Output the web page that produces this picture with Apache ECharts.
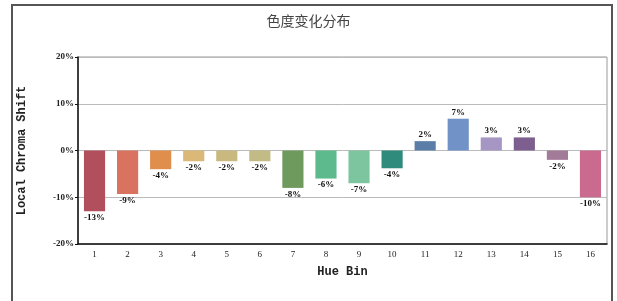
<!DOCTYPE html>
<html>
<head>
<meta charset="utf-8">
<script src="https://cdn.jsdelivr.net/npm/echarts@6/dist/echarts.min.js"></script>
<style>
  html, body { margin: 0; padding: 0; background: #fff; }
  #chart { width: 617px; height: 301px; }
</style>
</head>
<body>
<div id="chart"></div>
<script>
const bins = ['1', '2', '3', '4', '5', '6', '7', '8', '9', '10', '11', '12', '13', '14', '15', '16']
const shift = [-13, -9.3, -4, -2.3, -2.3, -2.3, -8, -6, -7, -3.8, 2, 6.8, 2.8, 2.8, -2, -10]
const barColors = [
  '#b24f5c', '#d9735f', '#e08e4c', '#d9b878', '#c9b97f', '#c3bb85',
  '#6e9a5e', '#5cba8c', '#7cc59f', '#2f8b7b', '#5a7ea8', '#7192c6',
  '#a696c4', '#7c5e8f', '#a27b98', '#c96a8e'
]

const chart = echarts.init(document.getElementById('chart'))

chart.setOption({
  animation: false,
  title: {
    text: '色度变化分布',
    left: 'center',
    top: 9,
    textStyle: {
      fontFamily: 'Noto Sans CJK SC',
      fontSize: 14,
      fontWeight: 'normal',
      color: '#444'
    }
  },
  graphic: [
    {
      type: 'rect',
      shape: { x: 12, y: 5, width: 600, height: 305 },
      style: { fill: 'none', stroke: '#555', lineWidth: 2 }
    }
  ],
  grid: {
    left: 78,
    right: 10,
    top: 57,
    bottom: 57,
    show: true,
    borderColor: '#999',
    borderWidth: 1
  },
  xAxis: {
    type: 'category',
    data: bins,
    name: 'Hue Bin',
    nameLocation: 'middle',
    nameGap: 22,
    nameTextStyle: {
      fontFamily: 'Liberation Mono',
      fontWeight: 'bold',
      fontSize: 12,
      color: '#222'
    },
    axisLine: { onZero: false, lineStyle: { color: '#111', width: 1.5 } },
    axisTick: { inside: true, length: 3, lineStyle: { color: '#111' } },
    axisLabel: {
      fontFamily: 'Liberation Serif',
      fontSize: 9,
      color: '#222',
      margin: 6
    }
  },
  yAxis: {
    type: 'value',
    min: -20,
    max: 20,
    interval: 10,
    name: 'Local Chroma Shift',
    nameLocation: 'middle',
    nameGap: 50,
    nameTextStyle: {
      fontFamily: 'Liberation Mono',
      fontWeight: 'bold',
      fontSize: 12,
      color: '#222'
    },
    axisLine: { show: true, lineStyle: { color: '#111', width: 1.5 } },
    axisTick: { show: true, length: 3, lineStyle: { color: '#111' } },
    axisLabel: {
      formatter: '{value}%',
      fontFamily: 'Liberation Serif',
      fontWeight: 'bold',
      fontSize: 9,
      color: '#222',
      margin: 4
    },
    splitLine: { lineStyle: { color: '#bbb' } }
  },
  series: [
    {
      type: 'bar',
      barWidth: '64%',
      data: shift.map((v, i) => ({
        value: v,
        itemStyle: { color: barColors[i] },
        label: { position: v >= 0 ? 'top' : 'bottom' }
      })),
      label: {
        show: true,
        distance: 2,
        formatter: p => Math.round(p.value) + '%',
        fontFamily: 'Liberation Serif',
        fontWeight: 'bold',
        fontSize: 9,
        color: '#111'
      }
    }
  ]
})
</script>
</body>
</html>
